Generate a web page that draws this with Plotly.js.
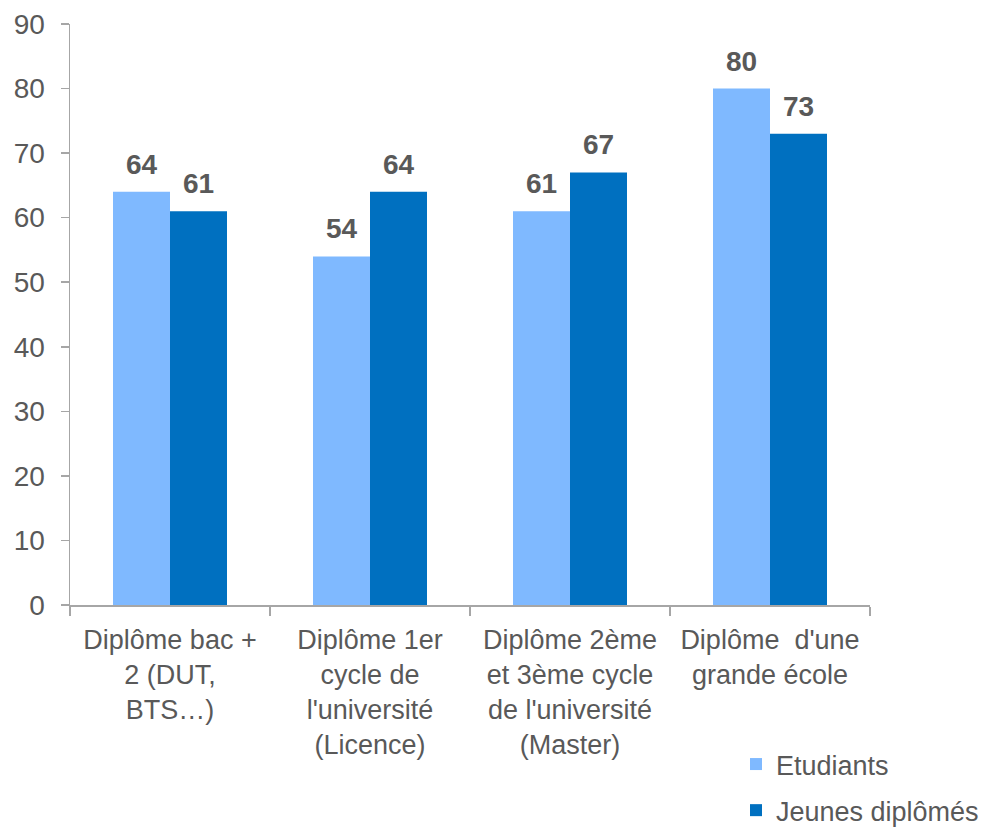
<!DOCTYPE html>
<html>
<head>
<meta charset="utf-8">
<script src="https://cdn.plot.ly/plotly-3.0.1.min.js"></script>
<style>body{margin:0;padding:0;background:#fff;} #chart{width:988px;height:827px;}</style>
</head>
<body>
<div id="chart"></div>
<script>
var categories = [
  "Diplôme bac +<br>2 (DUT,<br>BTS…)",
  "Diplôme 1er<br>cycle de<br>l'université<br>(Licence)",
  "Diplôme 2ème<br>et 3ème cycle<br>de l'université<br>(Master)",
  "Diplôme  d'une<br>grande école"
];
var etudiants = [64, 54, 61, 80];
var jeunesDiplomes = [61, 64, 67, 73];
var seriesNames = ["Etudiants", "Jeunes diplômés"];
var yTicks = [0, 10, 20, 30, 40, 50, 60, 70, 80, 90];

var textColor = "#595959";
var axisColor = "#a6a6a6";
var font = "Liberation Sans, Arial, sans-serif";

var traces = [
  {type: "bar", name: seriesNames[0], x: categories, y: etudiants,
   marker: {color: "#7fb9ff"}, legendgroup: "a", hoverinfo: "none"},
  {type: "bar", name: seriesNames[1], x: categories, y: jeunesDiplomes,
   marker: {color: "#0070c0"}, legendgroup: "b", hoverinfo: "none"}
];

var annotations = [];
[etudiants, jeunesDiplomes].forEach(function(vals, si) {
  vals.forEach(function(v, i) {
    annotations.push({
      x: categories[i], y: v, xref: "x", yref: "y",
      text: "<b>" + v + "</b>", showarrow: false,
      xanchor: "center", yanchor: "bottom",
      xshift: si === 0 ? -28.5 : 28.5, yshift: 10,
      font: {family: font, size: 28, color: textColor}
    });
  });
});

var layout = {
  width: 988, height: 827,
  margin: {l: 70, r: 118, t: 24, b: 222, autoexpand: false},
  paper_bgcolor: "#fff", plot_bgcolor: "#fff",
  barmode: "group", bargap: 0.43, bargroupgap: 0,
  font: {family: font, size: 28, color: textColor},
  showlegend: true,
  legend: {xref: "container", yref: "container",
           x: 736/988, y: 1 - 740/827, xanchor: "left", yanchor: "top",
           font: {family: font, size: 27, color: textColor},
           tracegroupgap: 8, bgcolor: "rgba(0,0,0,0)", itemwidth: 30},
  xaxis: {
    type: "category", showline: true, linecolor: axisColor, linewidth: 1.5,
    ticks: "outside", tickson: "boundaries", ticklen: 9, tickcolor: axisColor, tickwidth: 1.5,
    ticklabelstandoff: 10,
    tickfont: {family: font, size: 27, color: textColor},
    showgrid: false, zeroline: false, tickangle: 0, automargin: false
  },
  yaxis: {
    range: [0, 90], tickvals: yTicks, ticktext: yTicks.map(String),
    showline: true, linecolor: axisColor, linewidth: 1.5,
    ticks: "outside", ticklen: 8, tickcolor: axisColor, tickwidth: 1.5,
    ticklabelstandoff: 10,
    tickfont: {family: font, size: 28, color: textColor},
    showgrid: false, zeroline: false, automargin: false
  },
  annotations: annotations
};

Plotly.newPlot("chart", traces, layout, {displayModeBar: false, staticPlot: true});
</script>
</body>
</html>
